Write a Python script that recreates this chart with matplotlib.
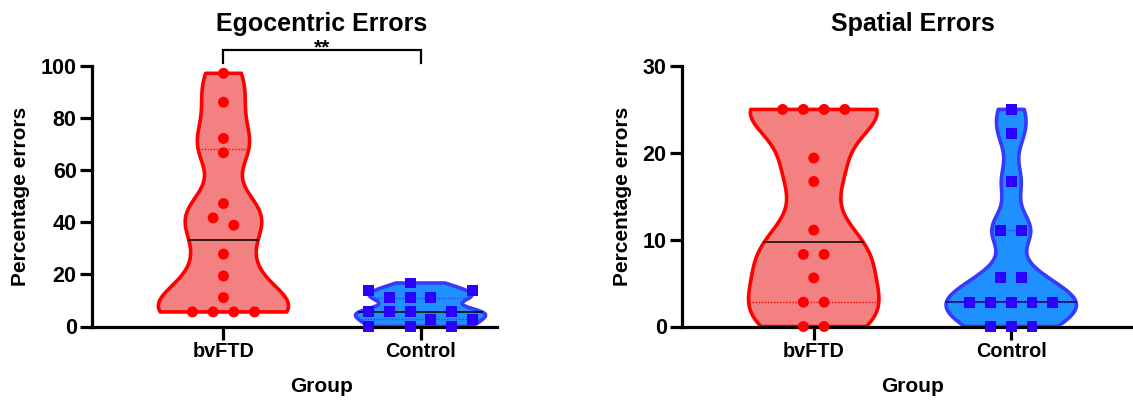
import numpy as np
import matplotlib
matplotlib.use("Agg")
import matplotlib.pyplot as plt
from matplotlib import transforms

plt.rcParams['font.family'] = ['Liberation Sans', 'DejaVu Sans']
plt.rcParams['font.weight'] = 'bold'

groups = ['bvFTD', 'Control']

# percentage errors per participant
ego_bvftd = [97.2, 86.1, 72.2, 66.7, 47.2, 41.7, 38.9, 27.8, 19.4, 11.1,
             5.6, 5.6, 5.6, 5.6]
ego_ctrl = [16.7, 13.9, 13.9, 11.1, 11.1, 11.1, 5.6, 5.6, 5.6, 5.6,
            2.8, 2.8, 0, 0, 0]
spa_bvftd = [25, 25, 25, 25, 19.4, 16.7, 11.1, 8.3, 8.3, 5.6, 2.8, 2.8, 0, 0]
spa_ctrl = [25, 22.2, 16.7, 11.1, 11.1, 5.6, 5.6, 2.8, 2.8, 2.8, 2.8, 2.8,
            0, 0, 0]

# horizontal spread of the dots (in dot widths), as Prism laid them out
ego_bvftd_jit = [0, 0, 0, 0, 0, -0.5, 0.5, 0, 0, 0, -1.5, -0.5, 0.5, 1.5]
ego_ctrl_jit = [-0.5, -2.5, 2.5, -1.5, -0.5, 0.5, -2.5, -1.5, -0.5, 1.5,
                0.5, 2.5, -2.5, -0.5, 1.5]
spa_bvftd_jit = [-1.5, -0.5, 0.5, 1.5, 0, 0, 0, -0.5, 0.5, 0, -0.5, 0.5,
                 -0.5, 0.5]
spa_ctrl_jit = [0, 0, 0, -0.5, 0.5, -0.5, 0.5, -2, -1, 0, 1, 2, -1, 0, 1]

red_fill, red_edge, red_dot = '#F38181', '#FF0000', '#FF0000'
blue_fill, blue_edge, blue_dot = '#1E90FF', '#3838FF', '#2A00FF'
half_width = 0.33
dot_step = 0.105


def kde_width(vals, bw, ys):
    v = np.asarray(vals, float)
    d = np.exp(-0.5 * ((ys[:, None] - v[None, :]) / bw) ** 2).sum(axis=1)
    return d


def violin(ax, pos, vals, jit, bw, fill, edge, dot, marker):
    v = np.asarray(vals, float)
    ys = np.linspace(v.min(), v.max(), 300)
    d = kde_width(v, bw, ys)
    w = d / d.max() * half_width
    xs = np.concatenate([pos - w, (pos + w)[::-1]])
    yy = np.concatenate([ys, ys[::-1]])
    ax.fill(xs, yy, facecolor=fill, edgecolor=edge, lw=2.6, zorder=2,
            joinstyle='round')

    def width_at(y):
        return np.interp(y, ys, w)

    med = np.median(v)
    q1, q3 = np.percentile(v, [25, 75], method='weibull')
    wm = width_at(med)
    ax.plot([pos - wm, pos + wm], [med, med], color='black', lw=1.1, zorder=3)
    for q in (q1, q3):
        wq = width_at(q)
        ax.plot([pos - wq, pos + wq], [q, q], color=edge, lw=1.0,
                ls=(0, (1, 1.2)), zorder=3)
    ax.scatter(pos + np.asarray(jit) * dot_step, v, s=62, marker=marker,
               color=dot, edgecolors='none', zorder=5, clip_on=False)


def style(ax, ymax, yticks, title):
    ax.set_xlim(-0.667, 1.667)
    ax.set_ylim(0, ymax)
    ax.set_yticks(yticks)
    ax.set_xticks([0, 1])
    ax.set_xticklabels(groups)
    for s in ('top', 'right'):
        ax.spines[s].set_visible(False)
    for s in ('left', 'bottom'):
        ax.spines[s].set_linewidth(2.3)
        ax.spines[s].set_zorder(4)
    ax.tick_params(axis='both', length=9, width=2.3, pad=2)
    ax.tick_params(axis='x', labelsize=14.3)
    ax.tick_params(axis='y', labelsize=15.5)
    ax.set_ylabel('Percentage errors', fontsize=15, fontweight='bold',
                  labelpad=8)
    ax.set_xlabel('Group', fontsize=15, fontweight='bold', labelpad=12)
    ax.set_title(title, fontsize=18, fontweight='bold', pad=25)
    for lab in ax.get_xticklabels() + ax.get_yticklabels():
        lab.set_fontweight('bold')


fig = plt.figure(figsize=(11.33, 4.01), dpi=100)
bottom = (401 - 326.5) / 401
height = 260.5 / 401
ax1 = fig.add_axes([92 / 1133, bottom, 460 / 1133, height])
ax2 = fig.add_axes([682 / 1133, bottom, 461 / 1133, height])

violin(ax1, 0, ego_bvftd, ego_bvftd_jit, 8.5, red_fill, red_edge, red_dot, 'o')
violin(ax1, 1, ego_ctrl, ego_ctrl_jit, 2.3, blue_fill, blue_edge, blue_dot, 's')
style(ax1, 100, [0, 20, 40, 60, 80, 100], 'Egocentric Errors')
# the left panel was cropped just past the Control violin
ax1.spines['bottom'].set_bounds(-0.667, 1.39)

violin(ax2, 0, spa_bvftd, spa_bvftd_jit, 3.0, red_fill, red_edge, red_dot, 'o')
violin(ax2, 1, spa_ctrl, spa_ctrl_jit, 2.0, blue_fill, blue_edge, blue_dot, 's')
style(ax2, 30, [0, 10, 20, 30], 'Spatial Errors')

# significance bracket between the two egocentric groups
br_top, br_tip = 106, 101
ax1.plot([0, 0, 1, 1], [br_tip, br_top, br_top, br_tip], color='black',
         lw=1.6, clip_on=False, solid_joinstyle='miter')
ax1.text(0.5, br_top, '**', ha='center', va='baseline', fontsize=15,
         fontweight='bold',
         transform=ax1.transData + transforms.ScaledTranslation(0, -2 / 72,
                                                                fig.dpi_scale_trans))

fig.savefig('out.png', dpi=100)
